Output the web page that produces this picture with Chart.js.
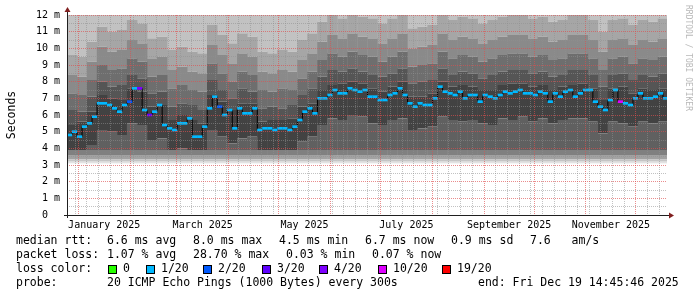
<!DOCTYPE html>
<html>
<head>
<meta charset="utf-8">
<script src="https://cdn.jsdelivr.net/npm/chart.js@4.4.1/dist/chart.umd.min.js"></script>
<style>
html, body { margin: 0; padding: 0; background: #fff; }
#wrap { width: 697px; height: 297px; position: relative; }
</style>
</head>
<body>
<div id="wrap"><canvas id="graficaPing"></canvas></div>
<script>
// eje x en dias desde el 1 de enero de 2025
var xMin = -6.8, xMax = 352.6;
var smokeStart = -6.8, smokeStep = 6;
var medianStart = -6.8, medianStep = 3;

var monthDays = [0, 31, 59, 90, 120, 151, 181, 212, 243, 273, 304, 334];
var labelDays = [15.5, 74.5, 135.5, 196.5, 258, 319];
var labelText = ['January 2025', 'March 2025', 'May 2025', 'July 2025', 'September 2025', 'November 2025'];

// mediana (ms), un valor cada 3 dias
var median = [
  4.8, 5.0, 4.7, 5.3, 5.5, 5.9, 6.7, 6.7, 6.6, 6.4,
  6.2, 6.6, 6.8, 7.6, 7.6, 6.3, 6.0, 6.2, 6.6, 5.4,
  5.2, 5.1, 5.5, 5.5, 5.8, 4.7, 4.7, 5.3, 6.4, 7.1,
  6.5, 6.0, 6.3, 5.2, 6.4, 6.1, 6.1, 6.4, 5.1, 5.2,
  5.2, 5.1, 5.2, 5.2, 5.1, 5.3, 5.7, 6.2, 6.4, 6.1,
  7.0, 7.0, 7.2, 7.5, 7.3, 7.3, 7.6, 7.5, 7.4, 7.5,
  7.1, 7.1, 6.9, 6.9, 7.2, 7.3, 7.6, 7.2, 6.7, 6.5,
  6.7, 6.6, 6.6, 7.0, 7.7, 7.4, 7.3, 7.2, 7.4, 7.0,
  7.2, 7.2, 6.8, 7.2, 7.1, 7.0, 7.2, 7.4, 7.3, 7.4,
  7.5, 7.3, 7.3, 7.2, 7.4, 7.3, 6.8, 7.3, 7.1, 7.4,
  7.5, 7.1, 7.3, 7.5, 7.5, 6.8, 6.5, 6.3, 6.9, 7.5,
  6.8, 6.7, 6.6, 7.0, 7.3, 7.0, 7.0, 7.1, 7.3, 7.0
];
// perdidas: casi todo 1/20, salvo estos puntos
var baseLoss = 1;
var lossIdx = [12, 14, 16, 30, 110];
var lossVal = [2, 4, 3, 2, 10];

// humo (smoke), un valor cada 6 dias
var smokeFloor = 3.1;
var lowEdges = [3.2, 3.35, 3.6, 3.9];
var smokeTop = 12.5;
var coreLo = [3.9,3.9,4.2,5.1,5.0,4.8,5.5,5.4,4.5,4.6,3.9,4.0,3.9,3.9,5.1,4.7,4.3,4.6,4.7,3.9,3.9,3.9,3.9,4.4,4.7,5.4,5.8,5.7,6.0,5.9,5.5,5.4,5.7,5.8,5.1,5.2,5.3,5.9,5.7,5.6,5.7,5.5,5.4,5.8,5.7,5.9,5.6,5.8,5.5,5.7,5.8,5.8,5.6,4.9,5.6,5.5,5.3,5.6,5.5,5.6];
var coreHi = [5.4,5.6,6.2,7.2,7.0,6.9,7.6,7.4,6.5,6.6,5.7,6.0,5.7,5.5,7.2,6.8,6.3,6.7,6.7,5.6,5.7,5.7,5.8,6.5,6.7,7.5,7.8,7.9,8.0,7.9,7.6,7.4,7.7,8.0,7.1,7.1,7.3,8.0,7.7,7.8,7.7,7.5,7.5,7.8,7.9,7.9,7.7,7.8,7.5,7.7,7.8,7.9,7.6,6.9,7.6,7.7,7.3,7.6,7.5,7.6];
var hiA = [6.3,6.2,7.1,8.0,7.7,7.8,8.4,8.2,7.3,7.4,6.5,6.7,6.6,6.3,8.1,7.5,7.0,7.6,7.4,6.4,6.5,6.4,6.6,7.2,7.6,8.3,8.7,8.6,8.8,8.6,8.4,8.3,8.5,8.8,7.9,8.0,8.1,8.8,8.4,8.6,8.5,8.2,8.4,8.6,8.7,8.7,8.5,8.6,8.3,8.4,8.7,8.7,8.4,7.7,8.4,8.5,8.1,8.4,8.3,8.5];
var hiB = [7.3,7.2,8.1,9.0,8.7,8.8,9.4,9.2,8.3,8.4,7.6,7.8,7.5,7.4,9.1,8.5,8.0,8.6,8.4,7.5,7.4,7.6,7.5,8.2,8.6,9.3,9.7,9.5,9.8,9.6,9.5,9.2,9.5,9.8,8.9,9.0,9.1,9.8,9.4,9.6,9.5,9.2,9.4,9.6,9.7,9.7,9.5,9.6,9.3,9.4,9.7,9.7,9.4,8.7,9.4,9.5,9.1,9.4,9.3,9.5];
var hiC = [8.4,8.3,9.2,10.1,9.8,9.9,10.5,10.3,9.4,9.5,8.7,8.9,8.6,8.5,10.2,9.6,9.1,9.7,9.5,8.6,8.5,8.7,8.6,9.3,9.7,10.4,10.8,10.6,10.9,10.7,10.6,10.3,10.6,10.9,10.0,10.1,10.2,10.9,10.5,10.7,10.6,10.3,10.5,10.7,10.8,10.8,10.6,10.7,10.4,10.5,10.8,10.8,10.5,9.8,10.5,10.6,10.2,10.5,10.4,10.6];
var hiD = [9.6,9.5,10.4,11.3,11.0,11.1,11.7,11.5,10.6,10.7,9.9,10.1,9.8,9.7,11.4,10.8,10.3,10.9,10.7,9.8,9.7,9.9,9.8,10.5,10.9,11.6,12.0,11.8,12.1,11.9,11.8,11.5,11.8,12.1,11.2,11.3,11.4,12.1,11.7,11.9,11.8,11.5,11.7,11.9,12.0,12.0,11.8,11.9,11.6,11.7,12.0,12.0,11.7,11.0,11.7,11.8,11.4,11.7,11.6,11.8];

var lossColors = ['#26ff00', '#00b8ff', '#0059ff', '#5e00ff', '#7e00ff', '#dd00ff', '#ff0000'];
var lossLabels = ['0', '1/20', '2/20', '3/20', '4/20', '10/20', '19/20'];
var lossSteps = [0, 1, 2, 3, 4, 10, 19];

var mono = '"DejaVu Sans Mono", monospace';
var gridColor = 'rgba(143,143,143,0.55)';
var mgridColor = 'rgba(222,79,79,0.65)';

function val(a, i) { return Array.isArray(a) ? a[i] : a; }
function lossColor(n) {
  var c = lossColors[0];
  lossSteps.forEach(function (s, k) { if (n >= s) c = lossColors[k]; });
  return c;
}

function banda(lo, hi, color) {
  return {
    type: 'bar', xAxisID: 'xs', order: 10,
    data: coreLo.map(function (_, i) {
      return { x: smokeStart + smokeStep * (i + 0.5), y: [val(lo, i), val(hi, i)] };
    }),
    backgroundColor: color, borderWidth: 0,
    barPercentage: 1.05, categoryPercentage: 1, grouped: false
  };
}

var datasets = [
  banda(smokeFloor, lowEdges[0], '#e2e2e2'),
  banda(lowEdges[0], lowEdges[1], '#c4c4c4'),
  banda(lowEdges[1], lowEdges[2], '#a2a2a2'),
  banda(lowEdges[2], lowEdges[3], '#808080'),
  banda(lowEdges[3], coreLo, '#606060'),
  banda(coreLo, coreHi, '#424242'),
  banda(coreHi, hiA, '#555555'),
  banda(hiA, hiB, '#6e6e6e'),
  banda(hiB, hiC, '#8a8a8a'),
  banda(hiC, hiD, '#a6a6a6'),
  banda(hiD, smokeTop, '#c2c2c2')
];

datasets.push({
  type: 'line', xAxisID: 'xm', order: 2,
  data: median.map(function (m, i) { return { x: medianStart + medianStep * (i + 0.5), y: m }; }),
  borderColor: '#000', borderWidth: 1, pointRadius: 0, stepped: 'middle'
});

datasets.push({
  type: 'bar', xAxisID: 'xm', order: 1,
  data: median.map(function (m, i) { return { x: medianStart + medianStep * (i + 0.5), y: [m - 0.08, m + 0.08] }; }),
  backgroundColor: median.map(function (_, i) {
    var k = lossIdx.indexOf(i);
    return lossColor(k >= 0 ? lossVal[k] : baseLoss);
  }),
  borderWidth: 0, barPercentage: 1.05, categoryPercentage: 1, grouped: false
});

var leyenda = [
  [241.5, [[16, 'median rtt:'], [107, '6.6 ms avg'], [193, '8.0 ms max'], [279, '4.5 ms min'], [365, '6.7 ms now'], [451, '0.9 ms sd'], [530, '7.6   am/s']]],
  [255.3, [[16, 'packet loss:'], [107, '1.07 % avg'], [193, '28.70 % max'], [286, '0.03 % min'], [372, '0.07 % now']]],
  [269, [[16, 'loss color:']]],
  [282.8, [[16, 'probe:'], [107, '20 ICMP Echo Pings (1000 Bytes) every 300s'], [478, 'end: Fri Dec 19 14:45:46 2025']]]
];
var boxX = [108, 146, 203, 262, 319, 378, 442];

var marco = {
  id: 'marco',
  afterDraw: function (chart) {
    var ctx = chart.ctx, a = chart.chartArea;
    ctx.save();
    ctx.strokeStyle = '#1f1f1f';
    ctx.lineWidth = 1;
    ctx.beginPath();
    ctx.moveTo(a.left - 3, a.bottom + 0.5); ctx.lineTo(a.right + 3, a.bottom + 0.5);
    ctx.moveTo(a.left + 0.5, a.bottom + 3); ctx.lineTo(a.left + 0.5, a.top - 4);
    ctx.stroke();
    ctx.fillStyle = '#801f1f';
    ctx.beginPath();
    ctx.moveTo(a.right + 2, a.bottom - 2.5); ctx.lineTo(a.right + 7, a.bottom + 0.5); ctx.lineTo(a.right + 2, a.bottom + 3.5);
    ctx.fill();
    ctx.beginPath();
    ctx.moveTo(a.left - 2.5, a.top - 3); ctx.lineTo(a.left + 0.5, a.top - 8); ctx.lineTo(a.left + 3.5, a.top - 3);
    ctx.fill();

    ctx.font = '11.5px ' + mono;
    ctx.textBaseline = 'middle';
    ctx.textAlign = 'left';
    ctx.fillStyle = '#000';
    leyenda.forEach(function (fila) {
      fila[1].forEach(function (p) { ctx.fillText(p[1], p[0], fila[0]); });
    });
    boxX.forEach(function (x, k) {
      ctx.fillStyle = lossColors[k];
      ctx.fillRect(x, 265, 8, 8);
      ctx.strokeStyle = '#000';
      ctx.strokeRect(x + 0.5, 265.5, 8, 8);
      ctx.fillStyle = '#000';
      ctx.fillText(lossLabels[k], x + 15, 269);
    });

    ctx.font = '8px ' + mono;
    ctx.fillStyle = '#b8b8b8';
    ctx.translate(688, 5);
    ctx.rotate(Math.PI / 2);
    ctx.fillText('RRDTOOL / TOBI OETIKER', 0, 0);
    ctx.restore();
  }
};

var ejeOculto = {
  type: 'linear', axis: 'x', position: 'bottom', min: xMin, max: xMax, display: false,
  offset: false, grid: { offset: false }, ticks: { stepSize: 100, includeBounds: false }
};

new Chart(document.getElementById('graficaPing').getContext('2d'), {
  type: 'bar',
  data: { datasets: datasets },
  options: {
    responsive: true,
    maintainAspectRatio: false,
    animation: false,
    events: [],
    devicePixelRatio: 1,
    layout: { padding: { top: 15, right: 30, bottom: 0, left: 0 } },
    plugins: { legend: { display: false }, tooltip: { enabled: false } },
    scales: {
      x: {
        type: 'linear', axis: 'x', position: 'bottom', min: xMin, max: xMax,
        offset: false,
        grid: {
          offset: false, z: 1, drawTicks: false,
          color: function (c) { return c.tick && c.tick.major ? mgridColor : gridColor; }
        },
        border: { display: false, dash: [1, 1] },
        ticks: { display: false },
        afterBuildTicks: function (s) {
          var t = monthDays.map(function (d) { return { value: d, major: true }; });
          for (var d = -2; d < xMax; d += 7) {
            if (monthDays.indexOf(d) < 0 && d > xMin) t.push({ value: d, major: false });
          }
          s.ticks = t;
        },
        afterFit: function (s) { s.height = 0; }
      },
      xl: {
        type: 'linear', axis: 'x', position: 'bottom', min: xMin, max: xMax,
        offset: false,
        grid: { display: false, drawTicks: false, offset: false },
        border: { display: false },
        ticks: {
          autoSkip: false, maxRotation: 0, minRotation: 0, padding: 4, color: '#000',
          font: { family: mono, size: 10 },
          callback: function (v) { var k = labelDays.indexOf(v); return k >= 0 ? labelText[k] : ''; }
        },
        afterBuildTicks: function (s) {
          s.ticks = labelDays.map(function (d) { return { value: d }; });
        },
        afterFit: function (s) { s.height = 82; }
      },
      xs: ejeOculto,
      xm: Object.assign({}, ejeOculto),
      y: {
        type: 'linear', position: 'left', min: 0, max: 12,
        grid: {
          z: 1, drawTicks: false,
          color: function (c) { return c.tick && Number.isInteger(c.tick.value) ? mgridColor : gridColor; }
        },
        border: { display: false, dash: [1, 1] },
        ticks: {
          stepSize: 0.5, autoSkip: false, padding: 7, color: '#000',
          font: { family: mono, size: 10 },
          callback: function (v) {
            if (!Number.isInteger(v)) return '';
            return v === 0 ? '0  ' : v + ' m';
          }
        },
        title: {
          display: true, text: 'Seconds', color: '#000',
          font: { family: mono, size: 11.5 },
          padding: { top: 5, bottom: 0 }
        },
        afterFit: function (s) { s.width = 67; }
      }
    }
  },
  plugins: [marco]
});
</script>
</body>
</html>
